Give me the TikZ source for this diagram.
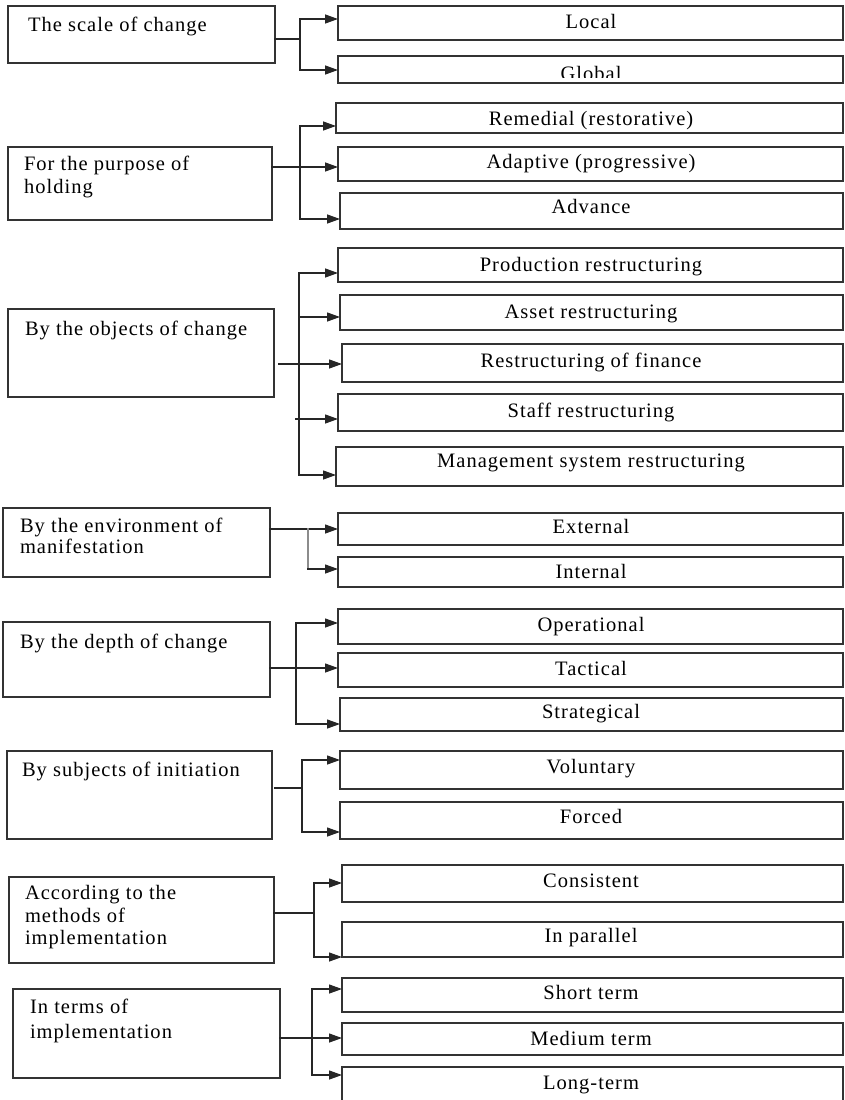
\documentclass[tikz,border=0pt]{standalone}
\usepackage{fontspec}
\setmainfont{Liberation Serif}[LetterSpace=5]
\usetikzlibrary{arrows.meta}

% box from (x1,y1) to (x2,y2): name, x1, y1, x2, y2
\newcommand\cbox[5]{\node[box, minimum width={#4pt-#2pt}, minimum height={#5pt-#3pt}] (#1) at (#2,#3) {};}
% centred caption of a right-hand box: name, baseline y, text
\newcommand\ctext[3]{\node[txt, anchor=base] (#1) at (591,#2) {#3};}
% left-aligned caption line: name, x, baseline y, text
\newcommand\ltext[4]{\node[txt, anchor=base west] (#1) at (#2,#3) {#4};}
% branch arrow from a bus point to a box: point name, position, target box
\newcommand\branch[3]{\coordinate (#1) at (#2); \draw[arr] (#1) -- (#1 -| #3.west);}

\begin{document}
\begin{tikzpicture}[x=1pt, y=-1pt,
  box/.style={draw=black!80, line width=1.4pt, inner sep=0pt, outer sep=0pt, anchor=north west},
  conn/.style={draw=black!85, line width=1.3pt, line cap=rect},
  arr/.style={conn, -{Triangle[length=13pt,width=9pt]}},
  txt/.style={inner sep=0pt, outer sep=0pt, text=black, font=\fontsize{20.5}{23}\selectfont}]
\clip (0,0) rectangle (845,1100);
\fill[white] (0,0) rectangle (845,1100);

% ---- The scale of change
\cbox{g1}{8}{6}{275}{63}
\ltext{g1t}{28}{31}{The scale of change}
\cbox{local}{338}{6}{843}{40}
\ctext{localt}{28}{Local}
\cbox{global}{338}{56}{843}{83}
\begin{scope}
  \clip (338,57) rectangle (843,77);
  \ctext{globalt}{80}{Global}
\end{scope}
\coordinate (j1) at (300,39);
\draw[conn] (j1 -| g1.east) -- (j1);
\draw[conn] (300,19) -- (300,70);
\branch{a1}{300,19}{local}
\branch{b1}{300,70}{global}

% ---- For the purpose of holding
\cbox{g2}{8}{147}{272}{220}
\ltext{g2t}{24}{170}{For the purpose of}
\ltext{g2u}{24}{193}{holding}
\cbox{remedial}{336}{103}{843}{133}
\ctext{remedialt}{125}{Remedial (restorative)}
\cbox{adaptive}{338}{147}{843}{181}
\ctext{adaptivet}{168}{Adaptive (progressive)}
\cbox{advance}{340}{193}{843}{229}
\ctext{advancet}{213}{Advance}
\coordinate (j2) at (300,167);
\draw[arr] (j2 -| g2.east) -- (j2 -| adaptive.west);
\draw[conn] (300,126) -- (300,219);
\branch{a2}{300,126}{remedial}
\branch{c2}{300,219}{advance}

% ---- By the objects of change
\cbox{g3}{8}{309}{274}{397}
\ltext{g3t}{25}{335}{By the objects of change}
\cbox{production}{338}{248}{843}{282}
\ctext{productiont}{271}{Production restructuring}
\cbox{asset}{340}{295}{843}{330}
\ctext{assett}{318}{Asset restructuring}
\cbox{finance}{342}{344}{843}{382}
\ctext{financet}{367}{Restructuring of finance}
\cbox{staff}{338}{394}{843}{431}
\ctext{stafft}{417}{Staff restructuring}
\cbox{management}{336}{447}{843}{486}
\ctext{managementt}{467}{Management system restructuring}
\branch{s3}{279,364}{finance}
\draw[conn] (299,273) -- (299,475);
\branch{a3}{299,273}{production}
\branch{b3}{299,317}{asset}
\branch{d3}{296,419}{staff}
\branch{e3}{299,475}{management}

% ---- By the environment of manifestation
\cbox{g4}{3}{508}{270}{577}
\ltext{g4t}{20}{532}{By the environment of}
\ltext{g4u}{20}{553}{manifestation}
\cbox{external}{338}{513}{843}{545}
\ctext{externalt}{533}{External}
\cbox{internal}{338}{557}{843}{587}
\ctext{internalt}{578}{Internal}
\coordinate (j4) at (308,529);
\draw[arr] (j4 -| g4.east) -- (j4 -| external.west);
\draw[conn, draw=black!45, line width=1.8pt] (j4) -- (308,569);
\branch{b4}{308,569}{internal}

% ---- By the depth of change
\cbox{g5}{3}{622}{270}{697}
\ltext{g5t}{20}{648}{By the depth of change}
\cbox{operational}{338}{609}{843}{644}
\ctext{operationalt}{631}{Operational}
\cbox{tactical}{338}{653}{843}{687}
\ctext{tacticalt}{675}{Tactical}
\cbox{strategical}{340}{698}{843}{731}
\ctext{strategicalt}{718}{Strategical}
\coordinate (j5) at (296,668);
\draw[arr] (j5 -| g5.east) -- (j5 -| tactical.west);
\draw[conn] (296,623) -- (296,724);
\branch{a5}{296,623}{operational}
\branch{c5}{296,724}{strategical}

% ---- By subjects of initiation
\cbox{g6}{7}{751}{272}{839}
\ltext{g6t}{22}{776}{By subjects of initiation}
\cbox{voluntary}{340}{751}{843}{789}
\ctext{voluntaryt}{773}{Voluntary}
\cbox{forced}{340}{802}{843}{839}
\ctext{forcedt}{823}{Forced}
\coordinate (s6) at (275,788);
\draw[conn] (s6) -- (302,788);
\draw[conn] (302,760) -- (302,832);
\branch{a6}{302,760}{voluntary}
\branch{b6}{302,832}{forced}

% ---- According to the methods of implementation
\cbox{g7}{9}{877}{274}{963}
\ltext{g7t}{25}{899}{According to the}
\ltext{g7u}{25}{922}{methods of}
\ltext{g7v}{25}{944}{implementation}
\cbox{consistent}{342}{865}{843}{902}
\ctext{consistentt}{887}{Consistent}
\cbox{parallel}{342}{922}{843}{957}
\ctext{parallelt}{942}{In parallel}
\coordinate (j7) at (314,913);
\draw[conn] (j7 -| g7.east) -- (j7);
\draw[conn] (314,883) -- (314,957);
\branch{a7}{314,883}{consistent}
\branch{b7}{314,957}{parallel}

% ---- In terms of implementation
\cbox{g8}{13}{989}{280}{1078}
\ltext{g8t}{30}{1013}{In terms of}
\ltext{g8u}{30}{1038}{implementation}
\cbox{short}{342}{978}{843}{1012}
\ctext{shortt}{999}{Short term}
\cbox{medium}{342}{1023}{843}{1055}
\ctext{mediumt}{1045}{Medium term}
\cbox{long}{342}{1067}{843}{1112}
\ctext{longt}{1089}{Long-term}
\coordinate (j8) at (312,1038);
\draw[arr] (j8 -| g8.east) -- (j8 -| medium.west);
\draw[conn] (312,989) -- (312,1075);
\branch{a8}{312,989}{short}
\branch{c8}{312,1075}{long}
\end{tikzpicture}
\end{document}
